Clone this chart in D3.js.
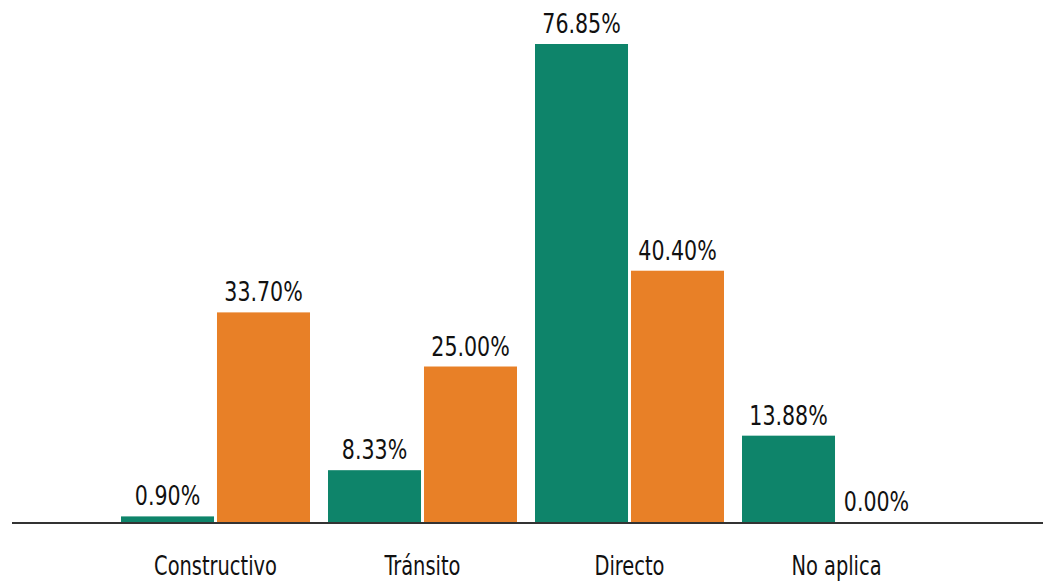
<!DOCTYPE html>
<html>
<head>
  <script src="https://d3js.org/d3.v7.min.js"></script>
  <style>
    body { margin: 0; background: #fff; }
    text { font-family: "Liberation Sans Narrow", "DejaVu Sans Condensed", sans-serif; fill: #111; }
  </style>
</head>
<body>
  <svg id="chart" width="1043" height="582"></svg>
  <script>
    // data
    const categories = ['Constructivo', 'Tránsito', 'Directo', 'No aplica'];
    const seriesNames = ['serie1', 'serie2'];
    const serie1 = [0.90, 8.33, 76.85, 13.88];
    const serie2 = [33.70, 25.00, 40.40, 0.00];
    const colors = ['#0e846a', '#e88027'];

    const svg = d3.select('#chart');
    const baseY = 522;

    const x = d3.scaleBand()
      .domain(categories)
      .range([112, 940])
      .paddingInner(0.087)
      .paddingOuter(0.0435);

    const xs = d3.scaleBand()
      .domain(seriesNames)
      .range([0, x.bandwidth()])
      .paddingInner(0.031);

    const y = d3.scaleLinear()
      .domain([0, 76.85])
      .range([baseY, 44]);

    const rows = categories.map((c, i) => ({ cat: c, vals: [serie1[i], serie2[i]] }));

    const groups = svg.selectAll('.grp')
      .data(rows)
      .enter()
      .append('g')
      .attr('class', 'grp')
      .attr('transform', d => `translate(${x(d.cat)},0)`);

    const cells = groups.selectAll('.cell')
      .data(d => d.vals.map((v, j) => ({ v: v, s: seriesNames[j], j: j })))
      .enter()
      .append('g');

    cells.append('rect')
      .attr('x', d => xs(d.s))
      .attr('width', xs.bandwidth())
      .attr('y', d => y(d.v))
      .attr('height', d => baseY - y(d.v))
      .attr('fill', d => colors[d.j]);

    // value labels, squeezed to look like a condensed face
    cells.append('text')
      .attr('transform', d => `translate(${xs(d.s) + xs.bandwidth() / 2 - (d.v === 0 ? 8 : 0)},${y(d.v) - 11}) scale(0.88,1)`)
      .attr('text-anchor', 'middle')
      .style('font-size', '26px')
      .text(d => d.v.toFixed(2) + '%');

    // baseline
    svg.append('line')
      .attr('x1', 12)
      .attr('x2', 1043)
      .attr('y1', baseY + 1)
      .attr('y2', baseY + 1)
      .attr('stroke', '#333')
      .attr('stroke-width', 2);

    // category labels
    svg.selectAll('.cat')
      .data(categories)
      .enter()
      .append('text')
      .attr('class', 'cat')
      .attr('transform', d => `translate(${x(d) + x.bandwidth() / 2},575) scale(0.8,1)`)
      .attr('text-anchor', 'middle')
      .style('font-size', '27px')
      .text(d => d);
  </script>
</body>
</html>
